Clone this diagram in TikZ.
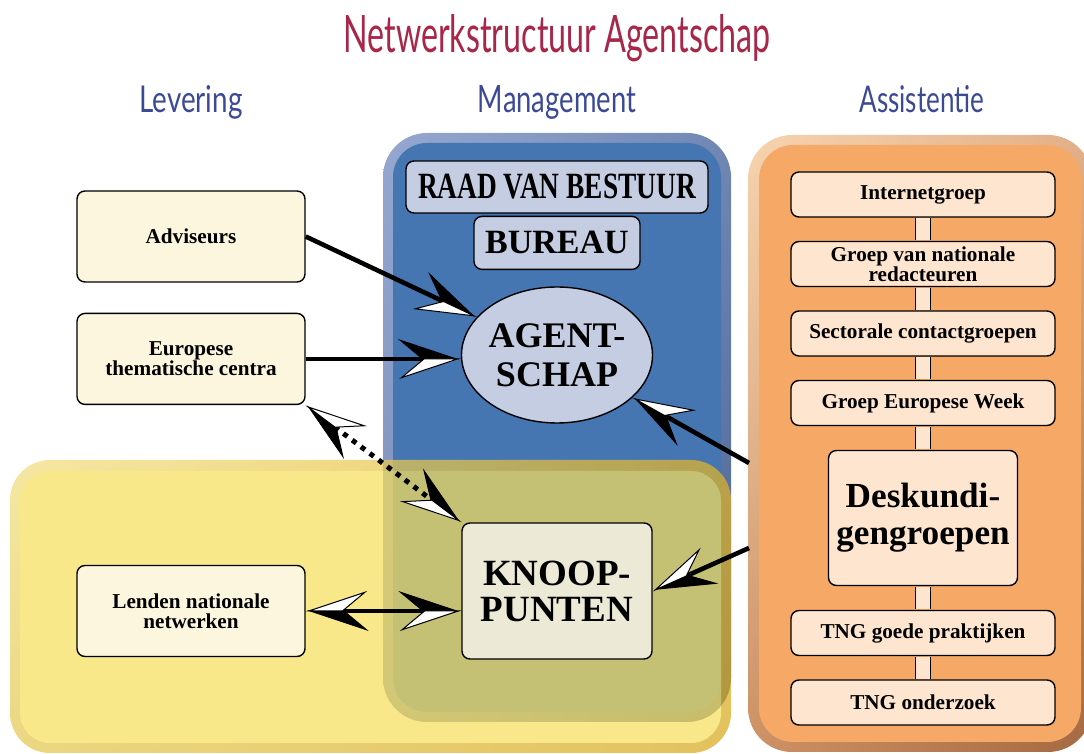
\documentclass[tikz,border=0pt]{standalone}
\usepackage{fontspec}
\setmainfont{Liberation Serif}
\newfontfamily\headfont{Lato}
\usepackage{graphicx}
\usetikzlibrary{positioning}
\usetikzlibrary{shapes,arrows.meta,shadings}

\definecolor{titlered}{RGB}{168,38,72}
\definecolor{headblue}{RGB}{60,74,150}
\definecolor{levfill}{RGB}{253,246,222}
\definecolor{asfill}{RGB}{253,229,208}
\definecolor{mgfill}{RGB}{197,205,227}
\definecolor{knfill}{RGB}{236,234,214}
\definecolor{bluein}{RGB}{69,118,178}
\definecolor{blueTL}{RGB}{150,168,208}
\definecolor{blueTR}{RGB}{112,135,180}
\definecolor{blueBL}{RGB}{120,140,185}
\definecolor{blueBR}{RGB}{72,98,145}
\definecolor{orin}{RGB}{246,168,102}
\definecolor{orTL}{RGB}{246,212,175}
\definecolor{orTR}{RGB}{226,175,135}
\definecolor{orBL}{RGB}{205,145,100}
\definecolor{orBR}{RGB}{165,105,65}
\definecolor{yelin}{RGB}{247,223,93}
\definecolor{yelTL}{RGB}{241,223,129}
\definecolor{yelTR}{RGB}{225,180,40}
\definecolor{yelBL}{RGB}{227,200,81}
\definecolor{yelBR}{RGB}{215,170,30}

\tikzset{
  duo/.tip={Stealth[harpoon,length=30pt,width=20pt,inset=12pt,line width=0.5pt,fill=black,sep=-30pt]
            Stealth[harpoon,swap,length=30pt,width=20pt,inset=12pt,line width=0.5pt,fill=white]},
  flow/.style={line width=2.3pt,-{duo}},
  dflow/.style={line width=2.5pt,dash pattern=on 2.5pt off 3pt,{duo}-{duo}},
  bflow/.style={line width=2.3pt,{duo}-{duo}},
  box/.style={draw,line width=0.7pt,rounded corners=4pt,align=center,inner sep=0pt,
    font=\bfseries\fontsize{10.6}{10}\selectfont},
  levbox/.style={box,fill=levfill,minimum width=114pt,minimum height=45.5pt},
  asbox/.style={box,fill=asfill,minimum width=132pt,minimum height=22.5pt},
  bigtxt/.style={font=\bfseries\fontsize{18.5}{18}\selectfont},
  bar/.style={double=asfill,double distance=7pt,line width=0.6pt,
    shorten <=0.35pt,shorten >=0.35pt},
  head/.style={anchor=base,inner sep=0pt,text=headblue}
}

\begin{document}
\begin{tikzpicture}[x=0.5pt,y=-0.5pt]
  \clip (0,0) rectangle (1084,754);
  % three areas
  \shade[upper left=blueTL,upper right=blueTR,lower left=blueBL,lower right=blueBR,
    rounded corners=22pt] (383,133) rectangle (731,722);
  \fill[bluein,rounded corners=17pt] (393,143) rectangle (721,712);
  \begin{scope}[transparency group,opacity=0.72]
    \shade[upper left=yelTL,upper right=yelTR,lower left=yelBL,lower right=yelBR,
      rounded corners=20pt] (10,460) rectangle (731,753);
    \fill[yelin,rounded corners=15pt] (20,471) rectangle (721,743);
  \end{scope}
  \shade[upper left=orTL,upper right=orTR,lower left=orBL,lower right=orBR,
    rounded corners=22pt] (748,135) rectangle (1092,752);
  \fill[orin,rounded corners=17pt] (759,145) rectangle (1081,742);

  % titles
  \node[anchor=base,inner sep=0pt,text=titlered] (title) at (557,53)
    {\resizebox{213.5pt}{19pt}{\headfont Netwerkstructuur Agentschap}};
  \node[head] (lev) at (191,113) {\resizebox{51.5pt}{13.5pt}{\headfont Levering}};
  \node[head] (man) at (557,113) {\resizebox{79pt}{13.5pt}{\headfont Management}};
  \node[head] (ass) at (922,113) {\resizebox{62.5pt}{13.5pt}{\headfont Assistentie}};

  % levering
  \node[levbox] (adv) at (191,236.5) {Adviseurs};
  \node[levbox,below=15pt of adv] (eur) {Europese\\thematische centra};
  \node[levbox] (len) at (191,611) {Lenden nationale\\netwerken};

  % management
  \node[box,fill=mgfill,minimum width=151pt,minimum height=26pt,
    font=\bfseries\fontsize{18.5}{18}\selectfont] (rvb) at (557,187)
    {\scalebox{0.74}[1]{RAAD VAN BESTUUR}};
  \node[box,fill=mgfill,minimum width=83pt,minimum height=26.5pt,below=1pt of rvb,
    font=\bfseries\fontsize{17}{17}\selectfont] (bur) {BUREAU};
  \node[ellipse,draw,line width=0.7pt,fill=mgfill,minimum width=95.5pt,minimum height=68pt,
    inner xsep=-3pt,inner ysep=0pt,align=center,
    font=\bfseries\fontsize{18}{19.5}\selectfont] (ag) at (557,355) {AGENT-\\SCHAP};
  \node[box,bigtxt,fill=knfill,minimum width=95pt,minimum height=68pt] (kn) at (557,591)
    {KNOOP-\\PUNTEN};

  % assistentie
  \node[asbox] (ig) at (923,194.5) {Internetgroep};
  \node[asbox,node distance=34.75pt,below of=ig] (grn) {Groep van nationale\\redacteuren};
  \node[asbox,node distance=34.75pt,below of=grn] (sec) {Sectorale contactgroepen};
  \node[asbox,node distance=34.75pt,below of=sec] (gew) {Groep Europese Week};
  \node[box,fill=asfill,minimum width=94.5pt,minimum height=67.5pt,
    font=\bfseries\fontsize{17.6}{18.5}\selectfont,
    node distance=57.5pt,below of=gew] (desk) {Deskundi-\\gengroepen};
  \node[asbox,node distance=57.5pt,below of=desk] (tng1) {TNG goede praktijken};
  \node[asbox,node distance=34.75pt,below of=tng1] (tng2) {TNG onderzoek};
  \foreach \a/\b in {ig/grn,grn/sec,sec/gew,gew/desk,desk/tng1,tng1/tng2}
    \draw[bar] (\a.south) -- (\b.north);

  % arrows
  \coordinate (o1) at (749,463);
  \coordinate (o2) at (749,548);
  \draw[flow] (adv.east) -- (ag);
  \draw[flow] (eur.east) -- (eur.east -| ag.west);
  \draw[dflow] (eur.south east) -- (kn.north west);
  \draw[bflow] (len.east) -- (len.east -| kn.west);
  \draw[flow] (o1) -- (ag);
  \draw[flow] (o2) -- (kn.east);
\end{tikzpicture}
\end{document}
